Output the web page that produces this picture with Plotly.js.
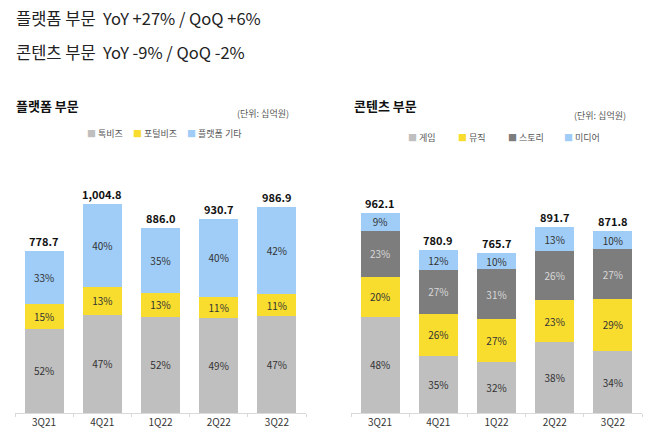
<!DOCTYPE html>
<html>
<head>
<meta charset="utf-8">
<script src="https://cdn.plot.ly/plotly-3.0.1.min.js"></script>
<style>html,body{margin:0;padding:0;background:#fff;}#chart{width:658px;height:435px;}</style>
</head>
<body>
<div id="chart"></div>
<script>
// ---- data ----
const quarters = ['3Q21', '4Q21', '1Q22', '2Q22', '3Q22'];

const platformTotals = [778.7, 1004.8, 886.0, 930.7, 986.9];
const platformTalkBizPct = [52, 47, 52, 49, 47];
const platformPortalBizPct = [15, 13, 13, 11, 11];
const platformEtcPct = [33, 40, 35, 40, 42];

const contentTotals = [962.1, 780.9, 765.7, 891.7, 871.8];
const contentGamePct = [48, 35, 32, 38, 34];
const contentMusicPct = [20, 26, 27, 23, 29];
const contentStoryPct = [23, 27, 31, 26, 27];
const contentMediaPct = [9, 12, 10, 13, 10];

const platformNames = ['톡비즈', '포털비즈', '플랫폼 기타'];
const contentNames = ['게임', '뮤직', '스토리', '미디어'];

// ---- styling ----
const FONT = 'Noto Sans CJK KR, Noto Sans, sans-serif';
const C_GRAY = '#BFBFBF', C_YELLOW = '#F8DD2E', C_BLUE = '#9FCDF7', C_DARK = '#7D7D7D';
const W = 658, TOP = 160, BASE = 413, PH = BASE - TOP;
const px = x => x / W;
const py = y => (BASE - y) / PH;

function seg(totals, pct, name, color, xa, ya, txtColor) {
  return {
    type: 'bar', x: quarters, y: totals.map((t, i) => t * pct[i] / 100),
    name: name, marker: {color: color, line: {width: 0}},
    text: pct.map(p => p + '%'), textposition: 'inside', insidetextanchor: 'middle',
    textangle: 0, constraintext: 'none',
    textfont: {family: FONT, size: 10, color: txtColor || '#333'},
    xaxis: xa, yaxis: ya, showlegend: false, hoverinfo: 'skip'
  };
}
function fmt(v) {
  return v.toLocaleString('en-US', {minimumFractionDigits: 1, maximumFractionDigits: 1});
}
function totalLabels(totals, xa, ya) {
  return totals.map((t, i) => ({
    text: '<b>' + fmt(t) + '</b>', x: quarters[i], y: t, xref: xa, yref: ya,
    xanchor: 'center', yanchor: 'bottom', yshift: 0, showarrow: false,
    font: {family: FONT, size: 11, color: '#111'}
  }));
}

const data = [
  seg(platformTotals, platformTalkBizPct, platformNames[0], C_GRAY, 'x', 'y'),
  seg(platformTotals, platformPortalBizPct, platformNames[1], C_YELLOW, 'x', 'y'),
  seg(platformTotals, platformEtcPct, platformNames[2], C_BLUE, 'x', 'y'),
  seg(contentTotals, contentGamePct, contentNames[0], C_GRAY, 'x2', 'y2'),
  seg(contentTotals, contentMusicPct, contentNames[1], C_YELLOW, 'x2', 'y2'),
  seg(contentTotals, contentStoryPct, contentNames[2], C_DARK, 'x2', 'y2', '#D8D8D8'),
  seg(contentTotals, contentMediaPct, contentNames[3], C_BLUE, 'x2', 'y2')
];

const xaxisBase = {
  type: 'category', showgrid: false, zeroline: false,
  showline: true, linecolor: '#D9D9D9', linewidth: 1,
  ticks: 'outside', tickson: 'boundaries', ticklen: 3, tickcolor: '#D9D9D9',
  tickfont: {family: FONT, size: 10, color: '#333'}, fixedrange: true
};
const yaxisBase = {range: [0, PH / 0.2084], visible: false, fixedrange: true};

function ann(text, x, y, size, color, anchor, bold) {
  return {text: bold ? '<b>' + text + '</b>' : text, xref: 'paper', yref: 'paper',
    x: px(x), y: py(y), xanchor: anchor || 'left', yanchor: 'middle', showarrow: false,
    font: {family: FONT, size: size, color: color}};
}
function legendItems(names, colors, xs, y) {
  const out = [];
  names.forEach((n, i) => {
    out.push(ann('<span style="color:' + colors[i] + '">■</span> ' + n, xs[i], y, 9, '#555'));
  });
  return out;
}

const annotations = [
  ann('플랫폼 부문  YoY +27% / QoQ +6%', 14, 18, 16.5, '#222'),
  ann('콘텐츠 부문  YoY -9% / QoQ -2%', 14, 52, 16.5, '#222'),
  ann('플랫폼 부문', 14, 106, 13, '#111', 'left', true),
  ann('(단위: 십억원)', 291, 113, 9, '#555', 'right'),
  ann('콘텐츠 부문', 352, 106, 13, '#111', 'left', true),
  ann('(단위: 십억원)', 628, 116, 9, '#555', 'right')
].concat(
  legendItems(platformNames, [C_GRAY, C_YELLOW, C_BLUE], [85, 131, 185], 133),
  legendItems(contentNames, [C_GRAY, C_YELLOW, C_DARK, C_BLUE], [406, 456, 506, 562], 137),
  totalLabels(platformTotals, 'x', 'y'),
  totalLabels(contentTotals, 'x2', 'y2')
);

const layout = {
  width: 658, height: 435,
  margin: {l: 0, r: 0, t: TOP, b: 435 - BASE, pad: 0},
  paper_bgcolor: '#fff', plot_bgcolor: '#fff',
  barmode: 'stack', bargap: 0.33,
  showlegend: false,
  xaxis: Object.assign({}, xaxisBase, {domain: [px(15), px(306)], anchor: 'y'}),
  yaxis: Object.assign({}, yaxisBase, {anchor: 'x'}),
  xaxis2: Object.assign({}, xaxisBase, {domain: [px(351), px(642)], anchor: 'y2'}),
  yaxis2: Object.assign({}, yaxisBase, {anchor: 'x2'}),
  annotations: annotations,
  font: {family: FONT}
};

Plotly.newPlot('chart', data, layout, {displayModeBar: false, staticPlot: true});
</script>
</body>
</html>
